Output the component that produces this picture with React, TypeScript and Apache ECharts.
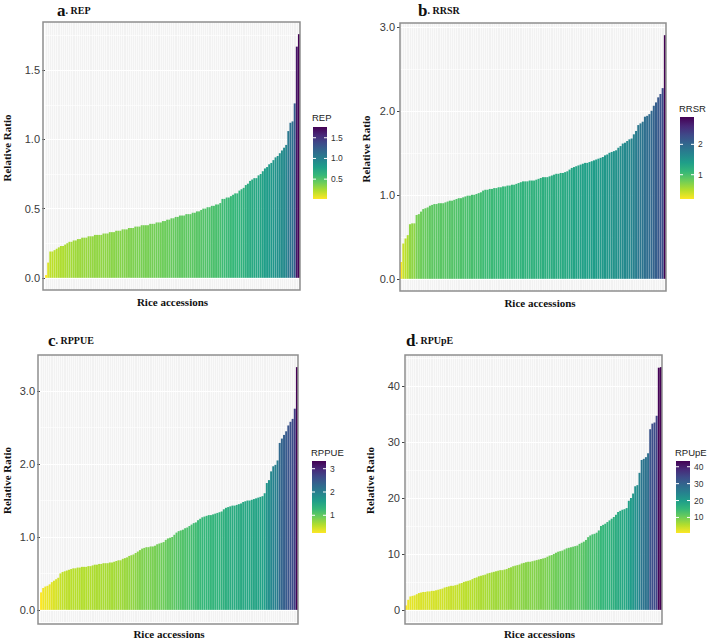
import React, { useEffect, useRef } from 'react';
import * as echarts from 'echarts';

// ---- data (sorted relative ratios of rice accessions) ----
const repValues = [
  0.02, 0.11, 0.19, 0.19, 0.20, 0.21, 0.22, 0.23, 0.23, 0.24,
  0.25, 0.26, 0.26, 0.27, 0.27, 0.28, 0.28, 0.29, 0.29, 0.29,
  0.30, 0.30, 0.30, 0.31, 0.31, 0.31, 0.31, 0.32, 0.32, 0.32,
  0.33, 0.33, 0.33, 0.34, 0.34, 0.34, 0.35, 0.35, 0.35, 0.36,
  0.36, 0.36, 0.37, 0.37, 0.37, 0.38, 0.38, 0.38, 0.38, 0.39,
  0.39, 0.39, 0.40, 0.40, 0.40, 0.41, 0.41, 0.42, 0.42, 0.43,
  0.43, 0.44, 0.44, 0.45, 0.45, 0.45, 0.46, 0.46, 0.46, 0.47,
  0.47, 0.48, 0.48, 0.49, 0.50, 0.50, 0.51, 0.51, 0.52, 0.52,
  0.53, 0.53, 0.54, 0.57, 0.57, 0.58, 0.58, 0.59, 0.60, 0.61,
  0.61, 0.63, 0.64, 0.65, 0.67, 0.68, 0.70, 0.71, 0.72, 0.72,
  0.74, 0.75, 0.77, 0.79, 0.80, 0.82, 0.83, 0.85, 0.87, 0.88,
  0.90, 0.92, 0.94, 0.96, 1.06, 1.12, 1.13, 1.26, 1.67, 1.76,
];
const rrsrValues = [
  0.20, 0.42, 0.48, 0.52, 0.65, 0.66, 0.66, 0.76, 0.77, 0.80,
  0.83, 0.84, 0.85, 0.87, 0.88, 0.89, 0.89, 0.90, 0.90, 0.90,
  0.91, 0.92, 0.93, 0.93, 0.94, 0.95, 0.96, 0.96, 0.97, 0.98,
  0.99, 0.99, 1.00, 1.00, 1.01, 1.02, 1.03, 1.05, 1.06, 1.06,
  1.07, 1.07, 1.08, 1.08, 1.09, 1.09, 1.10, 1.10, 1.11, 1.11,
  1.12, 1.12, 1.13, 1.14, 1.15, 1.16, 1.16, 1.16, 1.17, 1.17,
  1.17, 1.18, 1.19, 1.20, 1.21, 1.21, 1.21, 1.22, 1.23, 1.24,
  1.25, 1.25, 1.26, 1.26, 1.27, 1.28, 1.30, 1.32, 1.33, 1.34,
  1.35, 1.36, 1.37, 1.38, 1.38, 1.39, 1.40, 1.41, 1.42, 1.43,
  1.44, 1.45, 1.47, 1.48, 1.50, 1.51, 1.52, 1.53, 1.56, 1.58,
  1.61, 1.62, 1.64, 1.66, 1.67, 1.72, 1.76, 1.83, 1.85, 1.87,
  1.93, 1.94, 1.96, 2.00, 2.06, 2.10, 2.16, 2.20, 2.27, 2.90,
];
const rppueValues = [
  0.24, 0.30, 0.32, 0.33, 0.35, 0.38, 0.40, 0.42, 0.44, 0.50,
  0.52, 0.53, 0.54, 0.55, 0.56, 0.57, 0.57, 0.58, 0.58, 0.59,
  0.59, 0.59, 0.60, 0.60, 0.61, 0.62, 0.62, 0.63, 0.63, 0.64,
  0.64, 0.64, 0.65, 0.65, 0.66, 0.67, 0.68, 0.68, 0.70, 0.71,
  0.72, 0.74, 0.75, 0.76, 0.78, 0.80, 0.82, 0.84, 0.85, 0.86,
  0.86, 0.87, 0.87, 0.88, 0.90, 0.91, 0.92, 0.93, 0.96, 0.98,
  0.99, 1.00, 1.03, 1.06, 1.08, 1.09, 1.10, 1.12, 1.13, 1.15,
  1.17, 1.19, 1.20, 1.23, 1.25, 1.27, 1.28, 1.29, 1.30, 1.30,
  1.31, 1.32, 1.33, 1.34, 1.35, 1.38, 1.40, 1.41, 1.42, 1.43,
  1.43, 1.44, 1.45, 1.46, 1.48, 1.49, 1.50, 1.50, 1.51, 1.52,
  1.53, 1.54, 1.55, 1.56, 1.60, 1.74, 1.78, 1.90, 1.97, 1.99,
  2.05, 2.29, 2.35, 2.40, 2.45, 2.53, 2.58, 2.62, 2.76, 3.33,
];
const rpupeValues = [
  0.8, 1.8, 2.4, 2.5, 2.6, 2.8, 3.0, 3.1, 3.2, 3.2,
  3.3, 3.3, 3.4, 3.4, 3.5, 3.6, 3.7, 3.8, 4.0, 4.1,
  4.2, 4.3, 4.3, 4.4, 4.5, 4.7, 4.8, 5.0, 5.1, 5.2,
  5.3, 5.5, 5.7, 5.8, 6.0, 6.1, 6.2, 6.3, 6.5, 6.6,
  6.7, 6.8, 6.9, 7.0, 7.1, 7.1, 7.2, 7.3, 7.5, 7.6,
  7.8, 7.9, 8.0, 8.1, 8.3, 8.4, 8.5, 8.6, 8.6, 8.7,
  8.8, 8.9, 9.0, 9.1, 9.2, 9.3, 9.5, 9.7, 9.8, 10.0,
  10.2, 10.4, 10.5, 10.6, 10.8, 11.0, 11.1, 11.2, 11.3, 11.4,
  11.5, 11.8, 12.0, 12.2, 12.5, 13.0, 13.3, 13.5, 13.6, 13.8,
  14.2, 15.0, 15.2, 15.4, 15.7, 16.0, 16.3, 16.6, 17.0, 17.5,
  17.7, 17.9, 18.0, 18.2, 19.5, 20.0, 20.8, 22.1, 22.3, 24.5,
  26.8, 27.0, 27.3, 28.0, 32.3, 33.3, 33.5, 34.7, 43.3, 43.4,
];

// ---- axis ticks ----
const repTicks = [0, 0.5, 1.0, 1.5];
const repTickLabels = ['0.0', '0.5', '1.0', '1.5'];
const repMinor = [0.25, 0.75, 1.25, 1.75];
const rrsrTicks = [0, 1, 2, 3];
const rrsrTickLabels = ['0.0', '1.0', '2.0', '3.0'];
const rrsrMinor = [0.5, 1.5, 2.5];
const rppueTicks = [0, 1, 2, 3];
const rppueTickLabels = ['0.0', '1.0', '2.0', '3.0'];
const rppueMinor = [0.5, 1.5, 2.5];
const rpupeTicks = [0, 10, 20, 30, 40];
const rpupeTickLabels = ['0', '10', '20', '30', '40'];
const rpupeMinor = [5, 15, 25, 35, 45];

// ---- colourbar ticks ----
const repLegendTicks = [0.5, 1.0, 1.5];
const repLegendLabels = ['0.5', '1.0', '1.5'];
const rrsrLegendTicks = [1, 2];
const rrsrLegendLabels = ['1', '2'];
const rppueLegendTicks = [1, 2, 3];
const rppueLegendLabels = ['1', '2', '3'];
const rpupeLegendTicks = [10, 20, 30, 40];
const rpupeLegendLabels = ['10', '20', '30', '40'];

const panelLetters = ['a', 'b', 'c', 'd'];
const panelNames = ['REP', 'RRSR', 'RPPUE', 'RPUpE'];

const VIRIDIS = ['#FDE725', '#B4DE2C', '#6DCD59', '#35B779', '#1F9E89', '#26828E', '#31688E', '#3E4A89', '#482878', '#440154'];

const SERIF = '"Liberation Serif", "Times New Roman", serif';
const SANS = '"Liberation Sans", Arial, sans-serif';

const panels = [
  {
    values: repValues, ticks: repTicks, tickLabels: repTickLabels, minor: repMinor,
    legTicks: repLegendTicks, legLabels: repLegendLabels,
    grid: { left: 43, top: 22, width: 257, height: 268 },
    yGap: 33, xPad: 0, title: { x: 57, y: 10 },
    leg: { x: 313, titleY: 117, top: 127, h: 72 },
  },
  {
    values: rrsrValues, ticks: rrsrTicks, tickLabels: rrsrTickLabels, minor: rrsrMinor,
    legTicks: rrsrLegendTicks, legLabels: rrsrLegendLabels,
    grid: { left: 400, top: 23, width: 266, height: 268 },
    yGap: 29, xPad: 14, title: { x: 418, y: 10 },
    leg: { x: 680, titleY: 108, top: 117, h: 82 },
  },
  {
    values: rppueValues, ticks: rppueTicks, tickLabels: rppueTickLabels, minor: rppueMinor,
    legTicks: rppueLegendTicks, legLabels: rppueLegendLabels,
    grid: { left: 38, top: 355, width: 260, height: 269 },
    yGap: 28, xPad: 0, title: { x: 48, y: 340 },
    leg: { x: 312, titleY: 452, top: 461, h: 72 },
  },
  {
    values: rpupeValues, ticks: rpupeTicks, tickLabels: rpupeTickLabels, minor: rpupeMinor,
    legTicks: rpupeLegendTicks, legLabels: rpupeLegendLabels,
    grid: { left: 405, top: 355, width: 257, height: 269 },
    yGap: 30, xPad: 12, title: { x: 406, y: 340 },
    leg: { x: 676, titleY: 452, top: 461, h: 72 },
  },
];

function buildOption() {
  const grid: any[] = [];
  const xAxis: any[] = [];
  const yAxis: any[] = [];
  const series: any[] = [];
  const visualMap: any[] = [];
  const graphic: any[] = [];

  panels.forEach((p, i) => {
    const dMax = Math.max(...p.values);
    const dMin = Math.min(...p.values);
    const lo = Math.min(0, dMin);
    const span = dMax - lo;
    const yMin = lo - 0.05 * span;
    const yMax = dMax + 0.05 * span;
    const fmt = (v: number) => {
      const k = p.ticks.findIndex((t) => Math.abs(t - v) < 1e-9);
      return k >= 0 ? p.tickLabels[k] : '';
    };

    grid.push({
      ...p.grid,
      show: true,
      backgroundColor: '#F2F2F2',
      borderWidth: 0,
    });

    // panel border drawn on top of the grid lines
    graphic.push({
      type: 'rect',
      z: 100,
      shape: { x: p.grid.left, y: p.grid.top, width: p.grid.width, height: p.grid.height },
      style: { fill: 'none', stroke: '#8E8E8E', lineWidth: 1.5 },
      silent: true,
    });

    xAxis.push({
      type: 'category',
      gridIndex: i,
      data: p.values.map((_, j) => String(j + 1)),
      axisLine: { show: false },
      axisTick: { show: false },
      axisLabel: { show: false },
      splitLine: { show: true, interval: 0, lineStyle: { color: '#FFFFFF', width: 0.6 } },
      name: 'Rice accessions',
      nameLocation: 'middle',
      nameGap: 6,
      nameTextStyle: {
        fontFamily: SERIF, fontWeight: 'bold', fontSize: 11, color: '#111',
        verticalAlign: 'top', padding: [0, 0, 0, p.xPad],
      },
    });

    yAxis.push({
      type: 'value',
      gridIndex: i,
      min: yMin,
      max: yMax,
      axisLine: { show: false },
      axisTick: { show: true, length: 3, lineStyle: { color: '#444' }, customValues: p.ticks },
      axisLabel: {
        customValues: p.ticks, formatter: fmt, color: '#3A3A3A',
        fontSize: 11, fontFamily: SANS, margin: 5,
      },
      splitLine: { show: true, lineStyle: { color: '#FFFFFF', width: 1 } },
      name: 'Relative Ratio',
      nameLocation: 'middle',
      nameGap: p.yGap,
      nameTextStyle: {
        fontFamily: SERIF, fontWeight: 'bold', fontSize: 11, color: '#111',
        padding: [0, 0, 0, 16],
      },
    });
    yAxis.push({
      type: 'value',
      gridIndex: i,
      min: yMin,
      max: yMax,
      axisLine: { show: false },
      axisTick: { show: false, customValues: p.minor },
      axisLabel: { show: false, customValues: p.minor },
      splitLine: { show: true, lineStyle: { color: '#FFFFFF', width: 0.6 } },
    });

    series.push({
      type: 'bar',
      xAxisIndex: i,
      yAxisIndex: 2 * i,
      data: p.values,
      barCategoryGap: '8%',
      silent: true,
    });

    visualMap.push({
      type: 'continuous',
      show: false,
      seriesIndex: i,
      min: dMin,
      max: dMax,
      inRange: { color: VIRIDIS },
    });

    // panel title
    graphic.push({
      type: 'text',
      x: p.title.x,
      y: p.title.y,
      style: {
        text: `{big|${panelLetters[i]}}{small|. ${panelNames[i]}}`,
        verticalAlign: 'middle',
        rich: {
          big: { fontFamily: SERIF, fontWeight: 'bold', fontSize: 17, fill: '#111' },
          small: { fontFamily: SERIF, fontWeight: 'bold', fontSize: 10, fill: '#111' },
        },
      },
    });

    // colourbar legend
    const L = p.leg;
    const barW = 14;
    graphic.push({
      type: 'text',
      x: L.x - 1,
      y: L.titleY,
      style: { text: panelNames[i], fontFamily: SANS, fontSize: 9.5, fill: '#222', verticalAlign: 'middle' },
    });
    graphic.push({
      type: 'rect',
      shape: { x: L.x, y: L.top, width: barW, height: L.h },
      style: {
        fill: new echarts.graphic.LinearGradient(0, 0, 0, 1,
          VIRIDIS.slice().reverse().map((c, k) => ({ offset: k / (VIRIDIS.length - 1), color: c }))),
      },
    });
    p.legTicks.forEach((t, k) => {
      const ty = L.top + ((dMax - t) / (dMax - dMin)) * L.h;
      graphic.push({ type: 'line', shape: { x1: L.x, y1: ty, x2: L.x + 3, y2: ty }, style: { stroke: '#fff', lineWidth: 1 } });
      graphic.push({ type: 'line', shape: { x1: L.x + barW - 3, y1: ty, x2: L.x + barW, y2: ty }, style: { stroke: '#fff', lineWidth: 1 } });
      graphic.push({
        type: 'text',
        x: L.x + barW + 4,
        y: ty,
        style: { text: p.legLabels[k], fontFamily: SANS, fontSize: 8.5, fill: '#333', verticalAlign: 'middle' },
      });
    });
  });

  return {
    animation: false,
    backgroundColor: '#FFFFFF',
    grid, xAxis, yAxis, series, visualMap, graphic,
  };
}

export default function App() {
  const ref = useRef<HTMLDivElement>(null);
  useEffect(() => {
    if (!ref.current) return;
    const chart = echarts.init(ref.current, undefined, { renderer: 'svg' });
    chart.setOption(buildOption() as any);
    return () => chart.dispose();
  }, []);
  return (
    <div
      ref={ref}
      style={{ position: 'absolute', left: 0, top: 0, width: 708, height: 640, background: '#fff' }}
    />
  );
}
